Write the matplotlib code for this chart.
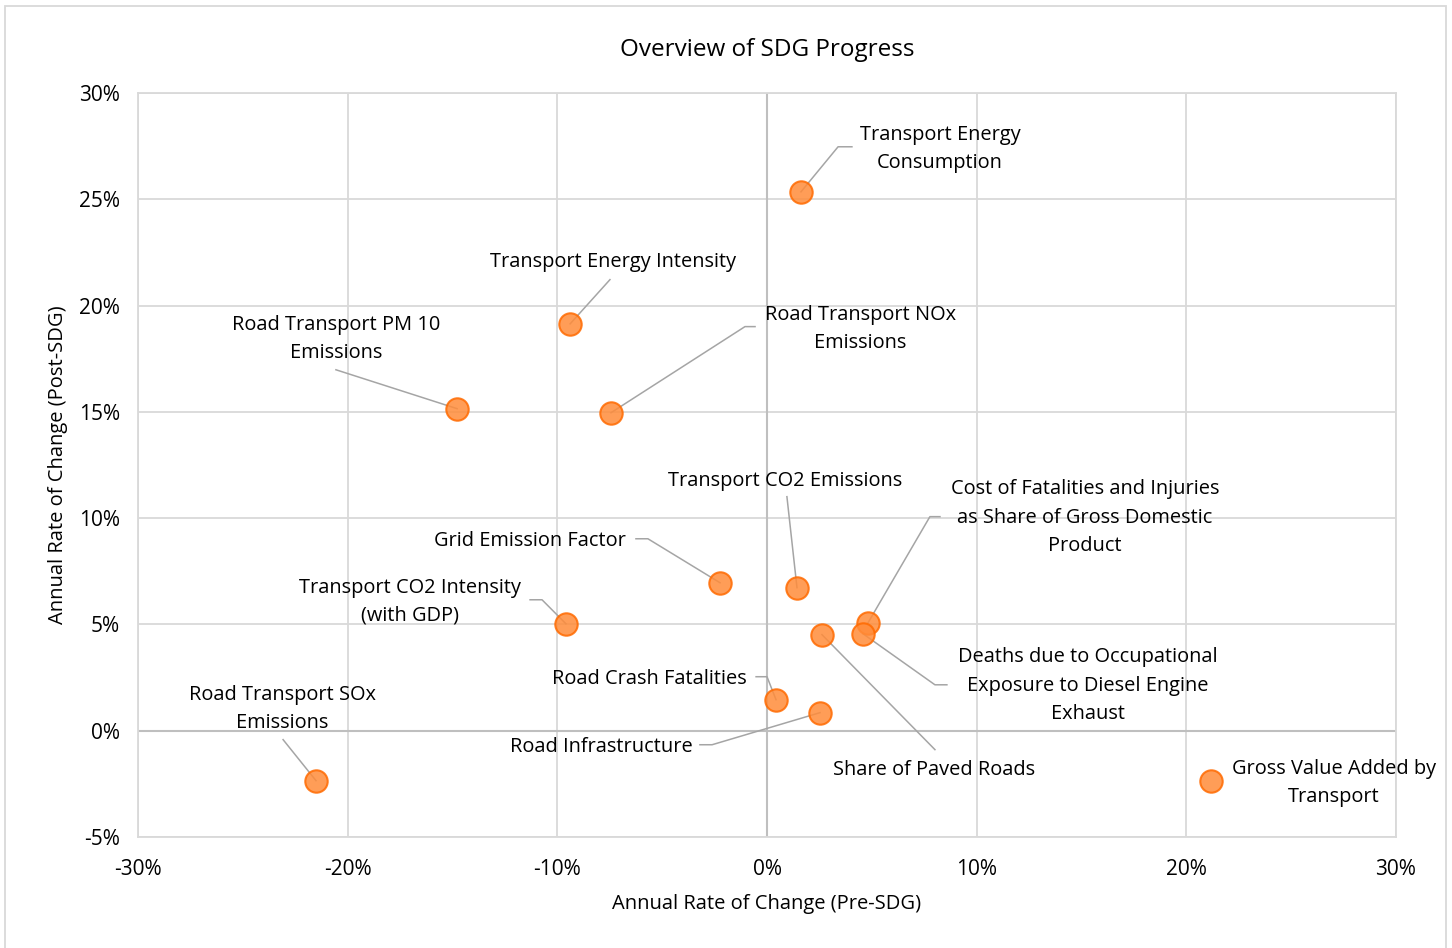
import matplotlib
matplotlib.use("Agg")
import matplotlib.pyplot as plt
from matplotlib.patches import Rectangle
from matplotlib.ticker import FuncFormatter, MultipleLocator

plt.rcParams['font.family'] = ['Open Sans', 'DejaVu Sans']

# indicator data: annual rate of change in percent
names = [
    "Transport Energy\nConsumption",
    "Transport Energy Intensity",
    "Road Transport PM 10\nEmissions",
    "Road Transport NOx\nEmissions",
    "Transport CO2 Emissions",
    "Grid Emission Factor",
    "Transport CO2 Intensity\n(with GDP)",
    "Cost of Fatalities and Injuries\nas Share of Gross Domestic\nProduct",
    "Deaths due to Occupational\nExposure to Diesel Engine\nExhaust",
    "Share of Paved Roads",
    "Road Crash Fatalities",
    "Road Infrastructure",
    "Road Transport SOx\nEmissions",
    "Gross Value Added by\nTransport",
]
pre_sdg = [1.62, -9.39, -14.78, -7.44, 1.43, -2.24, -9.59, 4.82, 4.58, 2.62, 0.43, 2.53, -21.51, 21.17]
post_sdg = [25.35, 19.14, 15.15, 14.96, 6.73, 6.96, 5.03, 5.08, 4.56, 4.52, 1.46, 0.85, -2.35, -2.35]

# label placement (text centre) and leader line (elbow, stub end) in data units
label_pos = [(8.25, 27.38), (-7.34, 22.06), (-20.56, 18.44), (4.44, 18.91),
             (0.86, 11.76), (-11.30, 8.94), (-17.03, 6.07), (15.17, 10.02),
             (15.31, 2.12), (7.96, -1.83), (-5.63, 2.45), (-7.92, -0.75),
             (-23.13, 1.03), (27.04, -2.45)]
leaders = [
    [(3.39, 27.47), (4.05, 27.47)],
    [(-7.49, 21.22)],
    [(-20.56, 16.98)],
    [(-1.05, 19.01), (-0.57, 19.01)],
    [(0.95, 11.01)],
    [(-5.68, 9.03), (-6.25, 9.03)],
    [(-10.73, 6.16), (-11.30, 6.16)],
    [(7.77, 10.07), (8.25, 10.07)],
    [(8.01, 2.16), (8.58, 2.16)],
    [(8.01, -0.89)],
    [(0.0, 2.54), (-0.52, 2.54)],
    [(-2.62, -0.66), (-3.20, -0.66)],
    [(-23.08, -0.42)],
    [],
]

fig = plt.figure(figsize=(14.52, 9.48), dpi=100)
ax = fig.add_axes([138 / 1452, 1 - 837 / 948, (1396 - 138) / 1452, (837 - 93) / 948])

fig.patches.append(Rectangle((5 / 1452, -0.01), (1446 - 5) / 1452, 1.01 - 6 / 948,
                             transform=fig.transFigure, fill=False,
                             edgecolor='#D9D9D9', linewidth=1.3))

ax.set_xlim(-30, 30)
ax.set_ylim(-5, 30)
ax.xaxis.set_major_locator(MultipleLocator(10))
ax.yaxis.set_major_locator(MultipleLocator(5))
fmt = FuncFormatter(lambda v, p: f"{v:.0f}%")
ax.xaxis.set_major_formatter(fmt)
ax.yaxis.set_major_formatter(fmt)
ax.grid(True, color='#D9D9D9', linewidth=1.3)
ax.set_axisbelow(True)
for s in ax.spines.values():
    s.set_color('#D9D9D9')
    s.set_linewidth(1.3)
ax.axhline(0, color='#BFBFBF', linewidth=1.5, zorder=1)
ax.axvline(0, color='#BFBFBF', linewidth=1.5, zorder=1)
ax.tick_params(length=0, labelsize=15, colors='#000000')
ax.tick_params(axis='x', pad=16)
ax.tick_params(axis='y', pad=13)

for i, (x, y) in enumerate(zip(pre_sdg, post_sdg)):
    if leaders[i]:
        xs = [x] + [p[0] for p in leaders[i]]
        ys = [y] + [p[1] for p in leaders[i]]
        ax.plot(xs, ys, color='#A5A5A5', linewidth=1.1, zorder=2)

ax.scatter(pre_sdg, post_sdg, s=260, color='#FF8C3A', alpha=0.85,
           edgecolors='#FF6A00', linewidths=1.5, zorder=3)

for name, (tx, ty) in zip(names, label_pos):
    ax.text(tx, ty, name, ha='center', va='center', fontsize=14.4,
            color='#000000', linespacing=1.55, zorder=4)

ax.set_title("Overview of SDG Progress", fontsize=17.5, pad=27)
ax.set_xlabel("Annual Rate of Change (Pre-SDG)", fontsize=14.5, labelpad=10)
ax.set_ylabel("Annual Rate of Change (Post-SDG)", fontsize=14.5, labelpad=8)

fig.savefig("out.png", dpi=100)
